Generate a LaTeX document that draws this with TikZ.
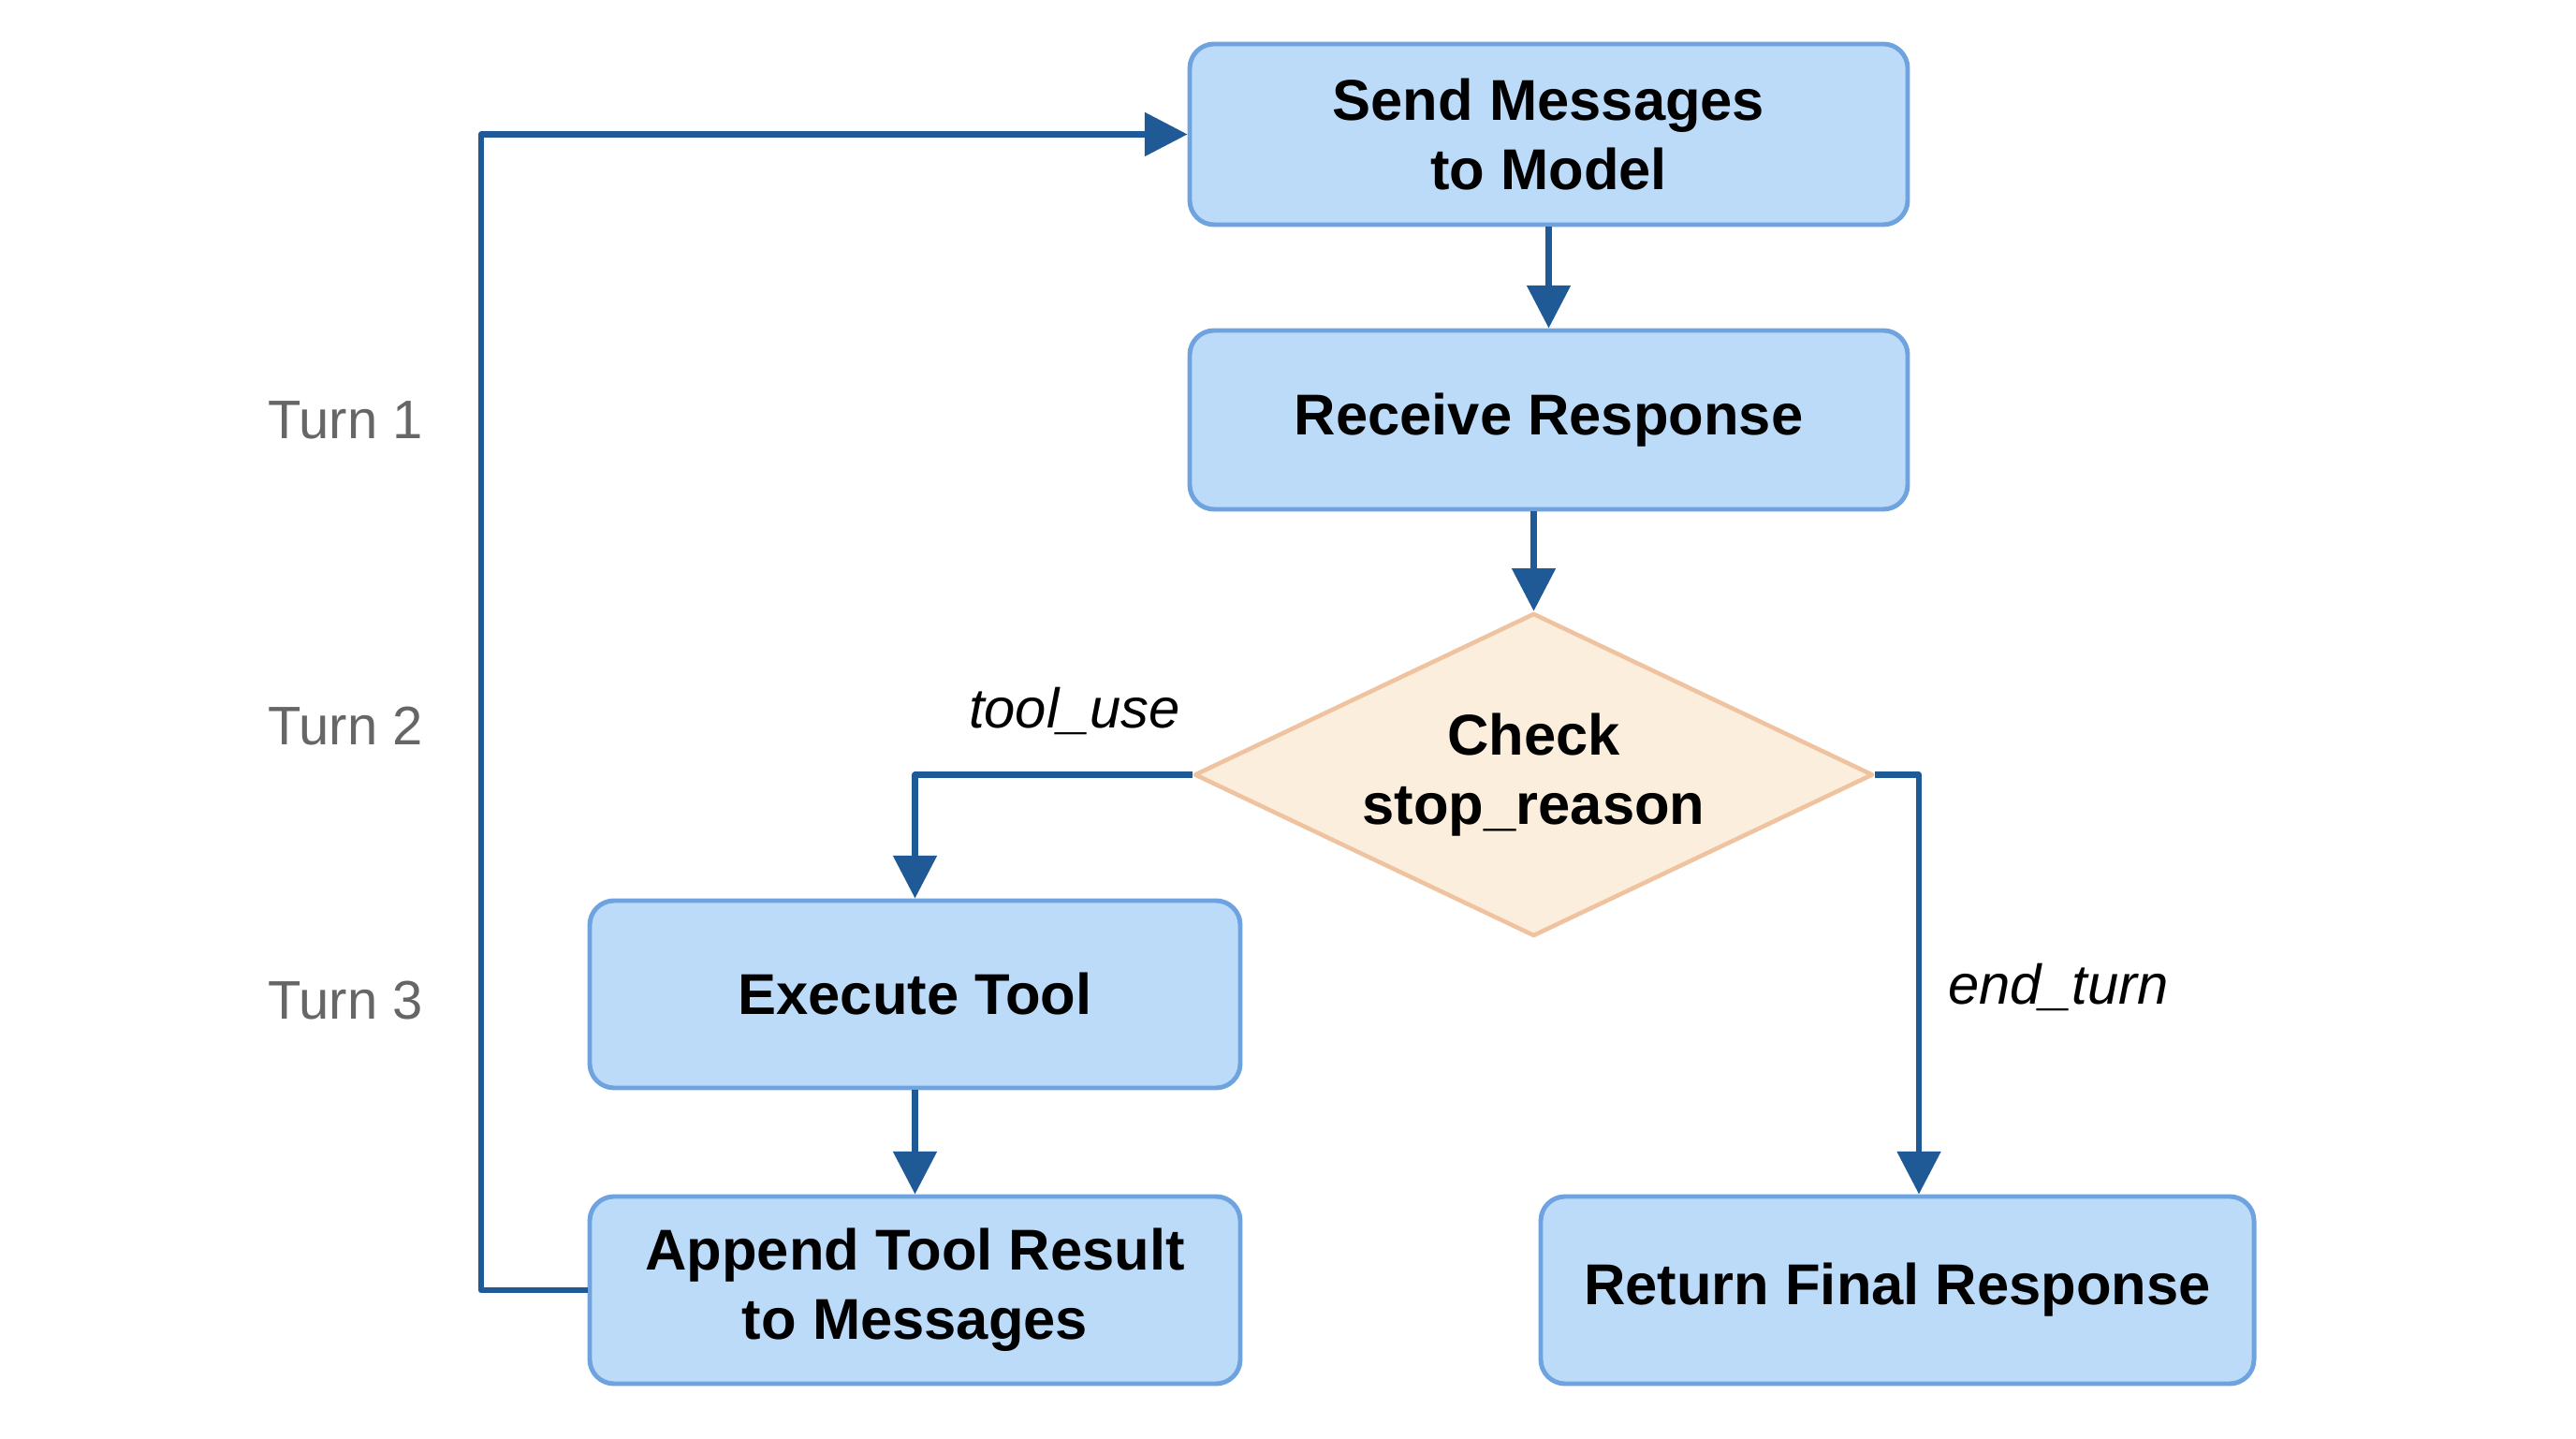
\documentclass[tikz,border=0pt]{standalone}
\usepackage{fontspec}
\setmainfont{Liberation Sans}
\usepackage{tikz}
\usetikzlibrary{arrows.meta,calc,positioning,shapes.geometric}
\definecolor{flowfill}{HTML}{BCDBF8}
\definecolor{flowedge}{HTML}{6EA3E0}
\definecolor{flowarrow}{HTML}{1F5A96}
\definecolor{checkfill}{HTML}{FBEEDC}
\definecolor{checkedge}{HTML}{EFC2A0}
\definecolor{turngray}{HTML}{666666}

\begin{document}
\begin{tikzpicture}[line cap=round, line join=round,
  >={Triangle[length=13pt,width=13pt]},
  stepbox/.style={draw=flowedge, fill=flowfill, line width=1.4pt,
    rounded corners=0.26cm, align=center, inner sep=0pt,
    font=\fontsize{17.5}{21}\selectfont\bfseries},
  checkbox/.style={diamond, aspect=2.1, draw=checkedge, fill=checkfill,
    line width=1.3pt, inner sep=0pt, minimum width=7.25cm,
    minimum height=3.45cm, align=center,
    font=\fontsize{17.5}{21}\selectfont\bfseries},
  flow/.style={draw=flowarrow, line width=1.8pt, line cap=butt, ->},
  turnlab/.style={text=turngray, font=\fontsize{16.5}{19}\selectfont},
  branchlab/.style={font=\fontsize{17}{20}\selectfont\itshape}]
  \path[use as bounding box, fill=white] (0,0) rectangle (27.52,15.36);
  % boxes, centres (1 px = 0.01 cm)
  \node[stepbox, minimum width=7.67cm, minimum height=1.93cm] (send)
    at (16.545,13.925) {Send Messages\\to Model};
  \node[stepbox, minimum width=7.67cm, minimum height=1.91cm] (recv)
    at (16.545,10.875) {Receive Response};
  \node[checkbox] (check) at (16.385,7.085) {Check\\stop\_reason};
  \node[stepbox, minimum width=6.95cm, minimum height=2.0cm] (exec)
    at (9.775,4.74) {Execute Tool};
  \node[stepbox, minimum width=6.95cm, minimum height=2.0cm] (append)
    at (9.775,1.58) {Append Tool Result\\to Messages};
  \node[stepbox, minimum width=7.62cm, minimum height=2.0cm] (final)
    at (20.27,1.58) {Return Final Response};
  % turn markers
  \foreach \y/\lab in {10.87/1,7.60/2,4.67/3} {
    \node[turnlab] (turn\lab) at (3.69,\y) {Turn \lab};
  }
  % connectors
  \draw[flow] (send) -- (recv);
  \draw[flow] (check.north |- recv.south) -- (check.north);
  \draw[flow] (check.west) -| (exec.north);
  \draw[flow] (check.east) -| ([xshift=0.23cm]final.north);
  \draw[flow] (exec) -- (append);
  \coordinate (loopdown) at (5.14,1.58);
  \draw[flow] (append.west) -- (loopdown) |- (send.west);
  \node[branchlab] (tooluse) at (11.48,7.76) {tool\_use};
  \node[branchlab] (endturn) at (21.99,4.81) {end\_turn};
\end{tikzpicture}
\end{document}
